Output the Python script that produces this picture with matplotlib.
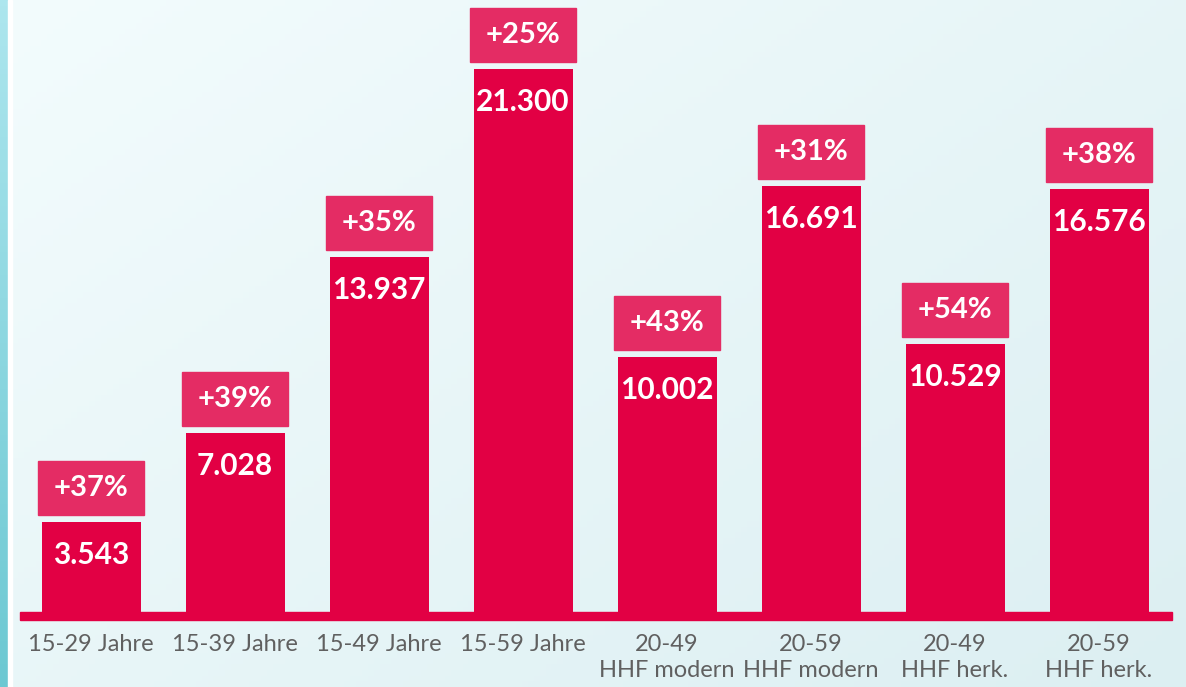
import numpy as np
import matplotlib.pyplot as plt
from matplotlib.patches import Rectangle

# data
labels = ['15-29 Jahre', '15-39 Jahre', '15-49 Jahre', '15-59 Jahre',
          '20-49\nHHF modern', '20-59\nHHF modern', '20-49\nHHF herk.', '20-59\nHHF herk.']
values = [3543, 7028, 13937, 21300, 10002, 16691, 10529, 16576]
growth = ['+37%', '+39%', '+35%', '+25%', '+43%', '+31%', '+54%', '+38%']
value_text = ['3.543', '7.028', '13.937', '21.300', '10.002', '16.691', '10.529', '16.576']

W, H = 1186, 687
bar_col = '#E20044'
badge_col = '#E42C64'

fig = plt.figure(figsize=(W / 100, H / 100), dpi=100)

# background gradient
bg = fig.add_axes([0, 0, 1, 1], zorder=0)
gx, gy = np.meshgrid(np.linspace(0, 1, 200), np.linspace(0, 1, 120))
t = np.clip(0.55 * gx + 0.45 * gy, 0, 1)[..., None]
c0 = np.array([243, 252, 253]) / 255
c1 = np.array([220, 239, 242]) / 255
bg.imshow(c0 + (c1 - c0) * t, extent=[0, 1, 0, 1], aspect='auto', origin='upper')
# left stripe
s = np.linspace(0, 1, 120)[:, None, None]
s0 = np.array([173, 230, 238]) / 255
s1 = np.array([108, 200, 210]) / 255
bg.imshow(s0 + (s1 - s0) * s, extent=[0, 8 / W, 0, 1], aspect='auto', origin='upper')
bg.add_patch(Rectangle((8 / W, 0), 4 / W, 1, color='white'))
bg.set_xlim(0, 1)
bg.set_ylim(0, 1)
bg.axis('off')

# main axes: one pixel = 25.5 units per 1000 value
base_px = 612
upp = 1000 / 25.5
ax = fig.add_axes([0, 0, 1, 1], zorder=1)
ax.patch.set_alpha(0)
ax.set_ylim(-(H - base_px) * upp, base_px * upp)
x0, step = 91, 144
ax.set_xlim(-x0 / step, (W - x0) / step)
ax.axis('off')

x = np.arange(len(values))
ax.bar(x, values, width=99 / step, color=bar_col, zorder=2)
ax.add_patch(Rectangle(((20 - x0) / step, -8 * upp), (1172 - 20) / step, 8 * upp,
                       color=bar_col, zorder=3))

bw, bh = 106 / step, 54 * upp
for i, v in enumerate(values):
    by = v + 7 * upp
    ax.add_patch(Rectangle((i - bw / 2, by), bw, bh, color=badge_col, zorder=2))
    ax.text(i, by + bh / 2, growth[i], ha='center', va='center', color='white',
            fontsize=21, fontweight='bold', family='Lato', zorder=4)
    ax.text(i, v - 33 * upp, value_text[i], ha='center', va='center', color='white',
            fontsize=21.5, fontweight='bold', family='Lato', zorder=4)
    ax.text(i, -22 * upp, labels[i], ha='center', va='top', color='#606060',
            fontsize=17, family='Lato', linespacing=1.3, zorder=4)

fig.savefig('out.png', dpi=100)
